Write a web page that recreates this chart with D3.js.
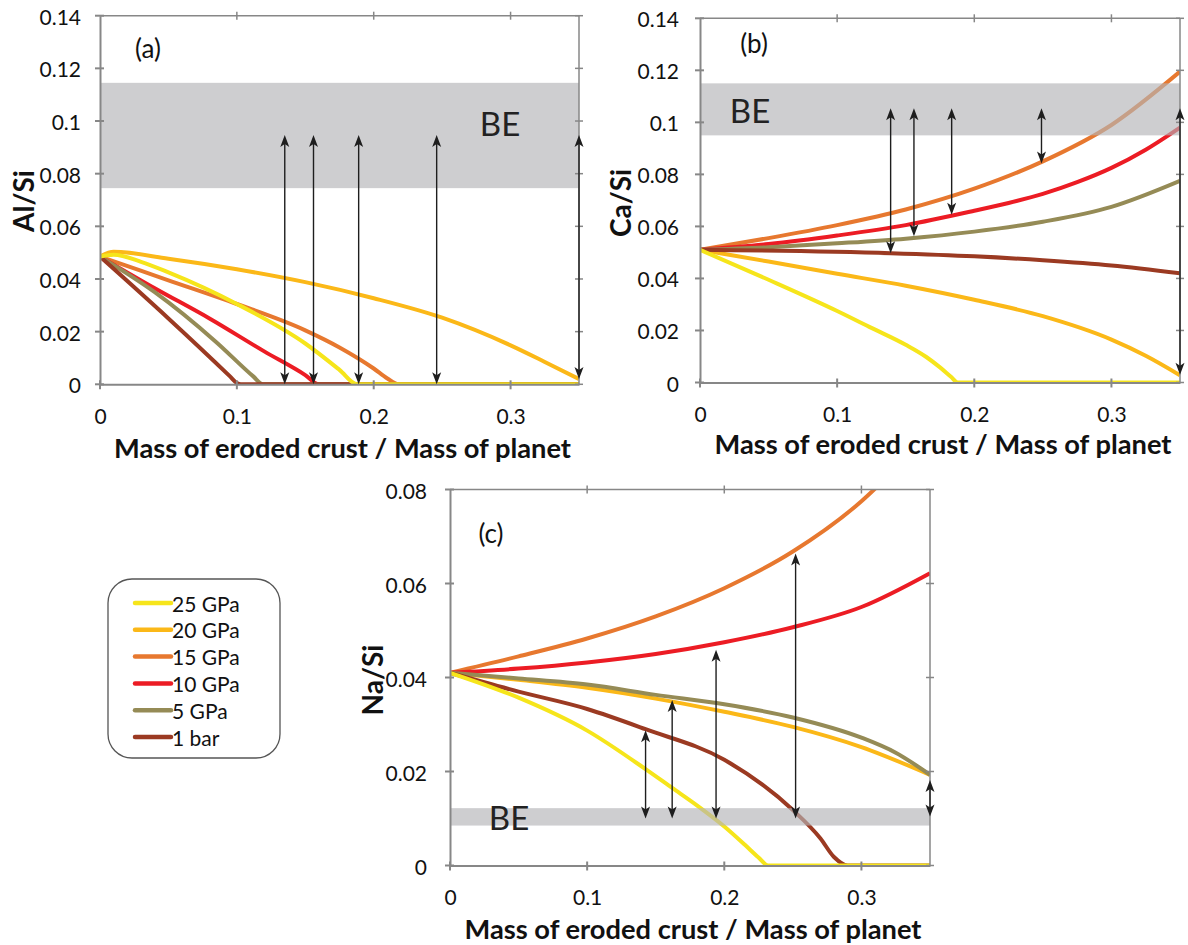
<!DOCTYPE html>
<html>
<head>
<meta charset="utf-8">
<script src="https://cdn.jsdelivr.net/npm/d3@7"></script>
<style>
  html, body { margin: 0; padding: 0; background: #fff; }
  svg { display: block; font-family: Lato, "Open Sans", sans-serif; }
</style>
</head>
<body>
<svg id="chart" width="1188" height="945"></svg>
<script>
// ---------------- DATA ----------------
const seriesNames = ["25 GPa", "20 GPa", "15 GPa", "10 GPa", "5 GPa", "1 bar"];
const seriesColors = ["#f6e51b", "#fbb818", "#e7782f", "#ec1c24", "#958b56", "#9b3a22"];
const xTicks = [0, 0.1, 0.2, 0.3];
const xTickLabels = ["0", "0.1", "0.2", "0.3"];
const yTicksAB = [0, 0.02, 0.04, 0.06, 0.08, 0.1, 0.12, 0.14];
const yTickLabelsAB = ["0", "0.02", "0.04", "0.06", "0.08", "0.1", "0.12", "0.14"];
const yTicksC = [0, 0.02, 0.04, 0.06, 0.08];
const yTickLabelsC = ["0", "0.02", "0.04", "0.06", "0.08"];
const xTitle = "Mass of eroded crust / Mass of planet";

// Panel (a) Al/Si  [x, y]
const alSi_25GPa = [[0,0.0485],[0.01,0.0492],[0.03,0.0465],[0.05,0.0425],[0.1,0.0305],[0.15,0.0155],[0.175,0.0055],[0.188,0],[0.35,0]];
const alSi_20GPa = [[0,0.0485],[0.01,0.0503],[0.05,0.0477],[0.1,0.0437],[0.15,0.0388],[0.2,0.0327],[0.25,0.0253],[0.3,0.0148],[0.325,0.0085],[0.35,0.002]];
const alSi_15GPa = [[0,0.0485],[0.05,0.0395],[0.1,0.0305],[0.15,0.0205],[0.175,0.014],[0.2,0.006],[0.21,0.0022],[0.218,0],[0.35,0]];
const alSi_10GPa = [[0,0.0485],[0.04,0.0365],[0.08,0.025],[0.12,0.0125],[0.15,0.0035],[0.16,0],[0.35,0]];
const alSi_5GPa  = [[0,0.0485],[0.04,0.035],[0.085,0.016],[0.112,0.003],[0.119,0],[0.35,0]];
const alSi_1bar  = [[0,0.0485],[0.05,0.025],[0.095,0.003],[0.1,0.0005],[0.103,0],[0.35,0]];
const alSi_BE = [0.0745, 0.1145];
const alSi_arrows = [[0.135,0.0947,0],[0.156,0.0947,0],[0.189,0.0947,0],[0.246,0.0947,0],[0.35,0.0947,0.002]];

// Panel (b) Ca/Si
const caSi_25GPa = [[0,0.051],[0.05,0.0395],[0.1,0.0275],[0.125,0.021],[0.15,0.0145],[0.165,0.0098],[0.175,0.0058],[0.183,0.0022],[0.188,0],[0.35,0]];
const caSi_20GPa = [[0,0.051],[0.05,0.0465],[0.1,0.0418],[0.15,0.0372],[0.2,0.0318],[0.25,0.0255],[0.3,0.0165],[0.325,0.0103],[0.35,0.0028]];
const caSi_15GPa = [[0,0.051],[0.05,0.0555],[0.1,0.0605],[0.15,0.0665],[0.2,0.0745],[0.25,0.085],[0.3,0.099],[0.35,0.1195]];
const caSi_10GPa = [[0,0.051],[0.05,0.0532],[0.1,0.0565],[0.15,0.0605],[0.2,0.066],[0.225,0.069],[0.25,0.0725],[0.275,0.077],[0.3,0.0825],[0.325,0.0895],[0.35,0.098]];
const caSi_5GPa  = [[0,0.051],[0.05,0.052],[0.1,0.0535],[0.15,0.0553],[0.2,0.058],[0.25,0.0618],[0.3,0.0675],[0.35,0.0775]];
const caSi_1bar  = [[0,0.051],[0.139,0.0497],[0.2,0.0485],[0.25,0.047],[0.3,0.045],[0.35,0.042]];
const caSi_BE = [0.095, 0.115];
const caSi_arrows = [[0.139,0.1054,0.0497],[0.156,0.1054,0.0562],[0.1835,0.1054,0.0645],[0.249,0.1054,0.0842],[0.35,0.1054,0.003]];

// Panel (c) Na/Si
const naSi_25GPa = [[0,0.041],[0.05,0.0357],[0.1,0.0287],[0.1426,0.0205],[0.162,0.0165],[0.18,0.0128],[0.2,0.0083],[0.215,0.0044],[0.225,0.0017],[0.232,0],[0.35,0]];
const naSi_20GPa = [[0,0.041],[0.05,0.0395],[0.1,0.0378],[0.15,0.0355],[0.2,0.0327],[0.25,0.0295],[0.3,0.0252],[0.35,0.0193]];
const naSi_15GPa = [[0,0.041],[0.05,0.0445],[0.1,0.0483],[0.15,0.053],[0.2,0.059],[0.25,0.0668],[0.3,0.0775],[0.32,0.083]];
const naSi_10GPa = [[0,0.041],[0.05,0.0419],[0.1,0.0432],[0.15,0.045],[0.2,0.0475],[0.25,0.0507],[0.3,0.055],[0.35,0.0622]];
const naSi_5GPa  = [[0,0.041],[0.05,0.0398],[0.1,0.0385],[0.15,0.0363],[0.2,0.0343],[0.25,0.0315],[0.3,0.0272],[0.325,0.024],[0.35,0.0193]];
const naSi_1bar  = [[0,0.041],[0.05,0.037],[0.1,0.0333],[0.1426,0.029],[0.2,0.0225],[0.25,0.0118],[0.27,0.0058],[0.28,0.0018],[0.29,0],[0.35,0]];
const naSi_BE = [0.0085, 0.0122];
const naSi_arrows = [[0.1426,0.0288,0.010],[0.162,0.0352,0.010],[0.194,0.0459,0.010],[0.252,0.0664,0.010],[0.35,0.0182,0.0104]];

// ---------------- DRAW ----------------
const svg = d3.select("#chart");
const axisColor = "#878787";
const drawOrder = [1, 2, 3, 4, 5, 0]; // 25 GPa on top

function drawPanel(p) {
  const x = d3.scaleLinear().domain([0, 0.35]).range([p.left, p.right]);
  const y = d3.scaleLinear().domain(p.yDomain).range([p.bottom, p.top]);
  const g = svg.append("g");
  const clipId = "clip-" + p.id;
  svg.append("defs").append("clipPath").attr("id", clipId)
    .append("rect").attr("x", p.left).attr("y", p.top)
    .attr("width", p.right - p.left).attr("height", p.bottom - p.top);

  // series
  const line = d3.line().x(d => x(d[0])).y(d => y(d[1])).curve(d3.curveMonotoneX);
  const sg = g.append("g").attr("clip-path", `url(#${clipId})`);
  drawOrder.forEach(i => {
    sg.append("path").attr("d", line(p.series[i]))
      .attr("fill", "none").attr("stroke", seriesColors[i])
      .attr("stroke-width", 4).attr("stroke-linejoin", "round").attr("stroke-linecap", "butt");
  });

  // BE band (semi-transparent, over the lines)
  g.append("rect").attr("x", x(0)).attr("width", x(0.35) - x(0))
    .attr("y", y(p.band[1])).attr("height", y(p.band[0]) - y(p.band[1]))
    .attr("fill", "#b3b4b7").attr("fill-opacity", 0.65);
  g.append("text").attr("x", p.bePos[0]).attr("y", p.bePos[1])
    .attr("text-anchor", "middle").attr("dominant-baseline", "central")
    .attr("font-size", 33).attr("fill", "#222").text("BE");

  // frame & axes
  const yT = y.domain()[1];
  g.append("line").attr("x1", x(0)).attr("x2", x(0.35)).attr("y1", y(yT)).attr("y2", y(yT))
    .attr("stroke", axisColor).attr("stroke-width", 1.5);
  g.append("line").attr("x1", x(0.35)).attr("x2", x(0.35)).attr("y1", y(0)).attr("y2", y(yT))
    .attr("stroke", axisColor).attr("stroke-width", 1.5);

  const xAxis = d3.axisBottom(x).tickValues(xTicks).tickSize(0).tickFormat((d, i) => xTickLabels[i]);
  const yAxis = d3.axisLeft(y).tickValues(p.yTicks).tickSize(0).tickFormat((d, i) => p.yTickLabels[i]);

  // tick marks crossing all four frame lines
  xTicks.forEach(t => {
    g.append("line").attr("x1", x(t)).attr("x2", x(t)).attr("y1", y(0) - 4).attr("y2", y(0) + 5)
      .attr("stroke", axisColor).attr("stroke-width", 2);
    if (t > 0) g.append("line").attr("x1", x(t)).attr("x2", x(t)).attr("y1", y(yT) - 4).attr("y2", y(yT) + 4)
      .attr("stroke", axisColor).attr("stroke-width", 1.5);
  });
  p.yTicks.forEach(t => {
    g.append("line").attr("x1", x(0) - 5).attr("x2", x(0) + 4).attr("y1", y(t)).attr("y2", y(t))
      .attr("stroke", axisColor).attr("stroke-width", 2);
    g.append("line").attr("x1", x(0.35) - 4).attr("x2", x(0.35) + 4).attr("y1", y(t)).attr("y2", y(t))
      .attr("stroke", axisColor).attr("stroke-width", 1.5);
  });

  const gx = g.append("g").attr("transform", `translate(0,${y(0)})`).call(xAxis);
  gx.select(".domain").attr("stroke", axisColor).attr("stroke-width", 2);
  gx.selectAll("text").attr("font-size", 21).attr("fill", "#111")
    .attr("font-family", "Lato, sans-serif").attr("dy", null).attr("y", 31)
    .attr("dominant-baseline", "central");

  const gy = g.append("g").attr("transform", `translate(${x(0)},0)`).call(yAxis);
  gy.select(".domain").attr("stroke", axisColor).attr("stroke-width", 2);
  gy.selectAll("text").attr("font-size", 21).attr("fill", "#111")
    .attr("font-family", "Lato, sans-serif").attr("x", -p.yLabelGap).attr("dy", null)
    .attr("dominant-baseline", "central");

  // arrows (double-headed)
  const ag = g.append("g");
  p.arrows.forEach(a => {
    const ax = x(a[0]), y1 = y(a[1]), y2 = y(a[2]);
    ag.append("line").attr("x1", ax).attr("x2", ax).attr("y1", y1 + 6).attr("y2", y2 - 6)
      .attr("stroke", "#1e1e1e").attr("stroke-width", 1.4);
    ag.append("path").attr("d", `M${ax},${y1} L${ax - 4.5},${y1 + 12} L${ax},${y1 + 9} L${ax + 4.5},${y1 + 12} Z`)
      .attr("fill", "#1e1e1e");
    ag.append("path").attr("d", `M${ax},${y2} L${ax - 4.5},${y2 - 12} L${ax},${y2 - 9} L${ax + 4.5},${y2 - 12} Z`)
      .attr("fill", "#1e1e1e");
  });

  // panel label
  g.append("text").attr("x", p.labelPos[0]).attr("y", p.labelPos[1])
    .attr("text-anchor", "middle").attr("dominant-baseline", "central")
    .attr("font-size", 26).attr("fill", "#111").text(p.label);

  // axis titles
  g.append("text").attr("x", (p.left + p.right) / 2 + 3).attr("y", p.xTitleY)
    .attr("text-anchor", "middle").attr("dominant-baseline", "central")
    .attr("font-size", 27).attr("font-weight", "bold").attr("fill", "#111")
    .attr("textLength", 457).attr("lengthAdjust", "spacingAndGlyphs")
    .text(xTitle);
  g.append("text").attr("transform", `translate(${p.yTitlePos[0]},${p.yTitlePos[1]}) rotate(-90)`)
    .attr("text-anchor", "middle").attr("dominant-baseline", "central")
    .attr("font-size", 28).attr("font-weight", "bold").attr("fill", "#111")
    .text(p.yTitle);
}

drawPanel({
  id: "a", left: 100, right: 579, top: 15.7, bottom: 384.3, yDomain: [0, 0.14],
  yTicks: yTicksAB, yTickLabels: yTickLabelsAB, yLabelGap: 19,
  series: [alSi_25GPa, alSi_20GPa, alSi_15GPa, alSi_10GPa, alSi_5GPa, alSi_1bar],
  band: alSi_BE, arrows: alSi_arrows, bePos: [500, 123], label: "(a)", labelPos: [148, 48],
  xTitleY: 447, yTitle: "Al/Si", yTitlePos: [23, 201]
});
drawPanel({
  id: "b", left: 700, right: 1180, top: 18.3, bottom: 382.5, yDomain: [0, 0.14],
  yTicks: yTicksAB, yTickLabels: yTickLabelsAB, yLabelGap: 21,
  series: [caSi_25GPa, caSi_20GPa, caSi_15GPa, caSi_10GPa, caSi_5GPa, caSi_1bar],
  band: caSi_BE, arrows: caSi_arrows, bePos: [750, 110], label: "(b)", labelPos: [754, 43],
  xTitleY: 443, yTitle: "Ca/Si", yTitlePos: [620, 203]
});
drawPanel({
  id: "c", left: 450, right: 930, top: 489.5, bottom: 865.5, yDomain: [0, 0.08],
  yTicks: yTicksC, yTickLabels: yTickLabelsC, yLabelGap: 23,
  series: [naSi_25GPa, naSi_20GPa, naSi_15GPa, naSi_10GPa, naSi_5GPa, naSi_1bar],
  band: naSi_BE, arrows: naSi_arrows, bePos: [509, 817], label: "(c)", labelPos: [491, 533],
  xTitleY: 928, yTitle: "Na/Si", yTitlePos: [372, 680]
});

// legend
const lg = svg.append("g");
lg.append("rect").attr("x", 108).attr("y", 579).attr("width", 172).attr("height", 179)
  .attr("rx", 24).attr("ry", 24).attr("fill", "#fff").attr("stroke", "#555").attr("stroke-width", 1.3);
seriesNames.forEach((n, i) => {
  const yy = 603 + i * 26.8;
  lg.append("line").attr("x1", 135).attr("x2", 171).attr("y1", yy).attr("y2", yy)
    .attr("stroke", seriesColors[i]).attr("stroke-width", 4.5).attr("stroke-linecap", "round");
  lg.append("text").attr("x", 172).attr("y", yy).attr("dominant-baseline", "central")
    .attr("font-size", 21).attr("fill", "#111").text(n);
});
</script>
</body>
</html>
